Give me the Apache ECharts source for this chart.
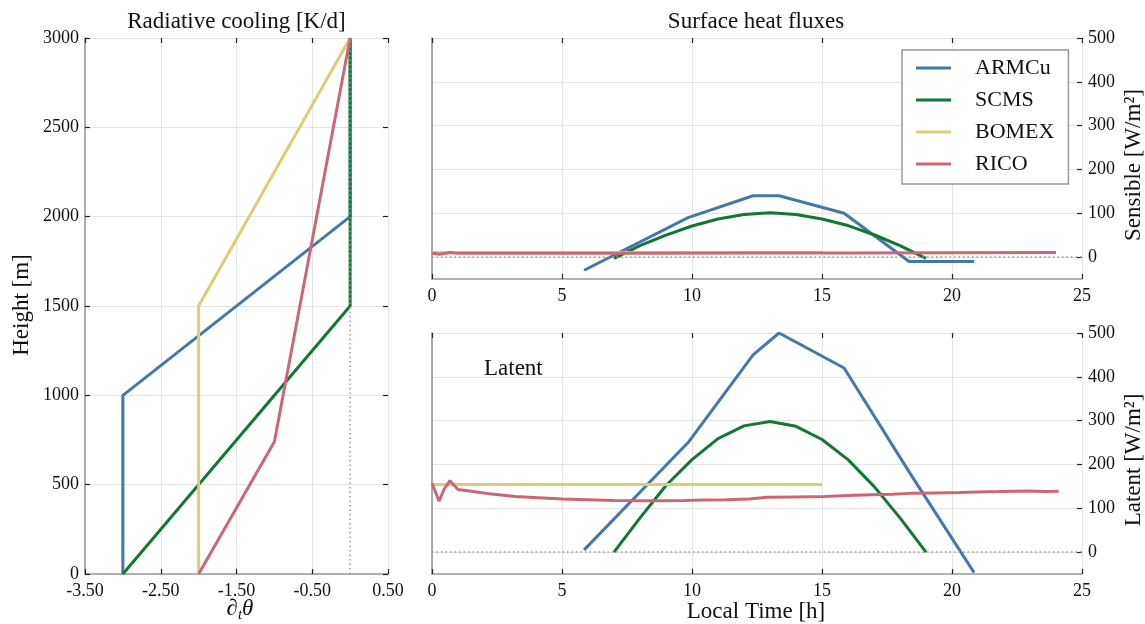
<!DOCTYPE html>
<html><head><meta charset="utf-8">
<script src="https://cdn.jsdelivr.net/npm/echarts@6/dist/echarts.min.js"></script>
<style>html,body{margin:0;padding:0;background:#fff}#c{width:1145px;height:624px}</style>
</head><body><div id="c"></div>
<script>
// ---------- data ----------
const caseNames = ['ARMCu', 'SCMS', 'BOMEX', 'RICO'];
const caseColors = ['#4477AA', '#117733', '#DDCC77', '#CC6677'];

// Radiative cooling profiles: [dθ/dt (K/d), height (m)]
const radARMCu = [[-3, 0], [-3, 1000], [0, 2000], [0, 3000]];
const radSCMS  = [[-3, 0], [0, 1500], [0, 3000]];
const radBOMEX = [[-2, 0], [-2, 1500], [0, 3000]];
const radRICO  = [[-2, 0], [-1, 740], [0, 3000]];

// Surface sensible heat flux: [local time (h), W/m2]
const shARMCu = [[5.85, -30], [9.85, 90], [12.35, 140], [13.35, 140], [15.85, 100], [18.35, -10], [20.85, -10]];
const shSCMS  = [[7, -3], [8, 26], [9, 50], [10, 71], [11, 87], [12, 97], [13, 101], [14, 97], [15, 87], [16, 72], [17, 51], [18, 26], [19, -3]];
const shBOMEX = [[0, 10.5], [15, 10.5]];
const shRICO  = [[0, 9], [0.3, 6.5], [0.7, 10.5], [1, 8.5], [4, 8.5], [8, 8.8], [12, 9.2], [16, 9.6], [20, 10], [24, 10.5]];

// Surface latent heat flux: [local time (h), W/m2]
const lhARMCu = [[5.85, 5], [9.85, 250], [12.35, 450], [13.35, 500], [15.85, 420], [18.35, 183], [20.85, -47]];
const lhSCMS  = [[7, 0], [8, 78], [9, 152], [10, 211], [11, 259], [12, 288], [13, 298], [14, 287], [15, 257], [16, 211], [17, 150], [18, 78], [19, 0]];
const lhBOMEX = [[0, 154], [15, 154]];
const lhRICO  = [[0, 157], [0.27, 116], [0.47, 144], [0.69, 163], [1.0, 143], [1.3, 140.5], [2.2, 133], [3.2, 127], [4.1, 124], [5.0, 121], [6.0, 119.5], [7.0, 118], [8.0, 117], [8.9, 117], [9.7, 118], [10.4, 119], [11.3, 119.5], [12.2, 121], [12.9, 125], [14.0, 126], [15.1, 127], [16.0, 129], [16.9, 131], [17.7, 132], [18.4, 134], [19.3, 135], [20.3, 136], [21.0, 137], [21.8, 138], [22.9, 139.7], [23.6, 138], [24.1, 139]];

// tick values
const heightTicksInterval = 500;
const coolTicksInterval = 1;
const timeTicksInterval = 5;
const fluxTicks = [0, 100, 200, 300, 400, 500];

// ---------- chart ----------
const FONT = '"Liberation Serif", "DejaVu Serif", serif';
const tickStyle = { show: true, inside: true, length: 5, lineStyle: { color: '#222', width: 1.2 } };
const axisLineStyle = { show: true, onZero: false, lineStyle: { color: '#999', width: 1.6 } };
const noLine = { show: false, onZero: false };
const gridLine = { show: true, lineStyle: { color: '#e4e4e4', width: 1 } };
const labelStyle = { color: '#111', fontFamily: FONT, fontSize: 18 };
const dotted = { type: [1.5, 3], color: '#999', width: 1.5 };

function lineSeries(name, idx, data, xi, yi, extra) {
  return Object.assign({
    type: 'line', name: name, data: data, xAxisIndex: xi, yAxisIndex: yi,
    showSymbol: false, symbol: 'none', smooth: false, animation: false,
    lineStyle: { color: caseColors[idx], width: 3 }, itemStyle: { color: caseColors[idx] }
  }, extra || {});
}
function zeroLine(axisKey) {
  const d = {}; d[axisKey] = 0;
  return { silent: true, symbol: ['none', 'none'], label: { show: false }, lineStyle: dotted, data: [d], animation: false };
}
const plain = v => String(v);

const chart = echarts.init(document.getElementById('c'), null, { renderer: 'canvas' });
chart.setOption({
  backgroundColor: '#fff',
  animation: false,
  textStyle: { fontFamily: FONT },
  grid: [
    { left: 85, top: 38, width: 303, height: 536 },
    { left: 432, top: 38, width: 650, height: 241 },
    { left: 432, top: 333, width: 650, height: 241 }
  ],
  xAxis: [
    { gridIndex: 0, type: 'value', position: 'bottom', min: -3.5, max: 0.5, interval: coolTicksInterval,
      axisLine: axisLineStyle, axisTick: tickStyle, splitLine: gridLine,
      axisLabel: Object.assign({ margin: 8, formatter: v => v.toFixed(2) }, labelStyle) },
    { gridIndex: 0, type: 'value', position: 'top', min: -3.5, max: 0.5, interval: coolTicksInterval,
      axisLine: noLine, axisTick: tickStyle, splitLine: { show: false }, axisLabel: { show: false } },
    { gridIndex: 1, type: 'value', position: 'bottom', min: 0, max: 25, interval: timeTicksInterval,
      axisLine: axisLineStyle, axisTick: tickStyle, splitLine: gridLine,
      axisLabel: Object.assign({ margin: 8, formatter: plain }, labelStyle) },
    { gridIndex: 1, type: 'value', position: 'top', min: 0, max: 25, interval: timeTicksInterval,
      axisLine: noLine, axisTick: tickStyle, splitLine: { show: false }, axisLabel: { show: false } },
    { gridIndex: 2, type: 'value', position: 'bottom', min: 0, max: 25, interval: timeTicksInterval,
      axisLine: axisLineStyle, axisTick: tickStyle, splitLine: gridLine,
      axisLabel: Object.assign({ margin: 8, formatter: plain }, labelStyle) },
    { gridIndex: 2, type: 'value', position: 'top', min: 0, max: 25, interval: timeTicksInterval,
      axisLine: noLine, axisTick: tickStyle, splitLine: { show: false }, axisLabel: { show: false } }
  ],
  yAxis: [
    { gridIndex: 0, type: 'value', position: 'left', min: 0, max: 3000, interval: heightTicksInterval,
      axisLine: axisLineStyle, axisTick: tickStyle, splitLine: gridLine,
      axisLabel: Object.assign({ margin: 6, formatter: plain }, labelStyle) },
    { gridIndex: 0, type: 'value', position: 'right', min: 0, max: 3000, interval: heightTicksInterval,
      axisLine: noLine, axisTick: tickStyle, splitLine: { show: false }, axisLabel: { show: false } },
    { gridIndex: 1, type: 'value', position: 'right', min: -50, max: 500,
      axisLine: noLine, axisTick: Object.assign({ customValues: fluxTicks }, tickStyle),
      splitLine: gridLine, axisLabel: Object.assign({ margin: 6, customValues: fluxTicks, formatter: plain }, labelStyle) },
    { gridIndex: 1, type: 'value', position: 'left', min: -50, max: 500,
      axisLine: axisLineStyle, axisTick: { show: false }, splitLine: { show: false }, axisLabel: { show: false } },
    { gridIndex: 2, type: 'value', position: 'right', min: -50, max: 500,
      axisLine: noLine, axisTick: Object.assign({ customValues: fluxTicks }, tickStyle),
      splitLine: gridLine, axisLabel: Object.assign({ margin: 6, customValues: fluxTicks, formatter: plain }, labelStyle) },
    { gridIndex: 2, type: 'value', position: 'left', min: -50, max: 500,
      axisLine: axisLineStyle, axisTick: { show: false }, splitLine: { show: false }, axisLabel: { show: false } }
  ],
  legend: {
    data: caseNames, orient: 'vertical', left: 902, top: 50,
    padding: [7, 14, 9, 14], itemGap: 10, itemWidth: 35, itemHeight: 3, icon: 'rect',
    borderColor: '#999', borderWidth: 1.5, backgroundColor: '#fff', borderRadius: 0,
    textStyle: { fontFamily: FONT, fontSize: 22, color: '#111', lineHeight: 22, padding: [0, 0, 0, 19] }
  },
  series: [
    lineSeries('ARMCu', 0, radARMCu, 0, 0),
    lineSeries('SCMS', 1, radSCMS, 0, 0),
    lineSeries('BOMEX', 2, radBOMEX, 0, 0),
    lineSeries('RICO', 3, radRICO, 0, 0, { markLine: zeroLine('xAxis') }),
    lineSeries('ARMCu', 0, shARMCu, 2, 2),
    lineSeries('SCMS', 1, shSCMS, 2, 2),
    lineSeries('BOMEX', 2, shBOMEX, 2, 2),
    lineSeries('RICO', 3, shRICO, 2, 2, { markLine: zeroLine('yAxis') }),
    lineSeries('ARMCu', 0, lhARMCu, 4, 4),
    lineSeries('SCMS', 1, lhSCMS, 4, 4),
    lineSeries('BOMEX', 2, lhBOMEX, 4, 4),
    lineSeries('RICO', 3, lhRICO, 4, 4, { markLine: zeroLine('yAxis') })
  ],
  graphic: [
    { type: 'text', x: 236.5, y: 22, style: { text: 'Radiative cooling [K/d]', font: '23px ' + FONT, fill: '#111', align: 'center', verticalAlign: 'middle' } },
    { type: 'text', x: 756, y: 22, style: { text: 'Surface heat fluxes', font: '23px ' + FONT, fill: '#111', align: 'center', verticalAlign: 'middle' } },
    { type: 'text', x: 22, y: 305, rotation: Math.PI / 2, style: { text: 'Height [m]', font: '23px ' + FONT, fill: '#111', align: 'center', verticalAlign: 'middle' } },
    { type: 'text', x: 240, y: 609, style: { text: '{a|∂}{b|t}{a|θ}', font: '23px ' + FONT, fill: '#111', align: 'center', verticalAlign: 'middle',
        rich: { a: { fontFamily: FONT, fontSize: 23, fontStyle: 'italic', fill: '#111' }, b: { fontFamily: FONT, fontSize: 15, fontStyle: 'italic', fill: '#111', padding: [12, 0, 0, 0] } } } },
    { type: 'text', x: 756, y: 612, style: { text: 'Local Time [h]', font: '23px ' + FONT, fill: '#111', align: 'center', verticalAlign: 'middle' } },
    { type: 'text', x: 1134, y: 165, rotation: Math.PI / 2, style: { text: 'Sensible [W/m²]', font: '23px ' + FONT, fill: '#111', align: 'center', verticalAlign: 'middle' } },
    { type: 'text', x: 1134, y: 460, rotation: Math.PI / 2, style: { text: 'Latent [W/m²]', font: '23px ' + FONT, fill: '#111', align: 'center', verticalAlign: 'middle' } },
    { type: 'text', x: 484, y: 369, style: { text: 'Latent', font: '23px ' + FONT, fill: '#111', align: 'left', verticalAlign: 'middle' } }
  ]
});
</script></body></html>
